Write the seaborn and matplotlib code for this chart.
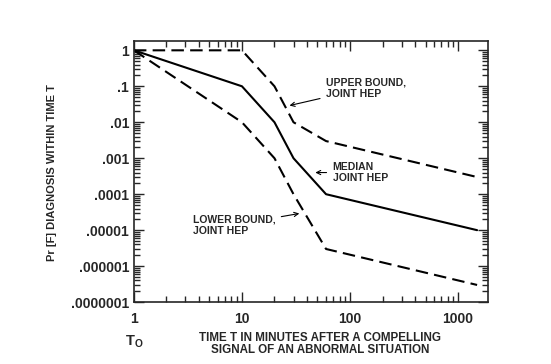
import pandas as pd
import matplotlib
matplotlib.use("Agg")
import matplotlib.pyplot as plt
import matplotlib.transforms as mtransforms
import seaborn as sns

# values (minutes vs probability of failure)
time_min = [1, 10, 20, 30, 60, 1500]
median_hep = [1.0, 0.1, 0.01, 0.001, 0.0001, 0.00001]
upper_hep = [1.0, 1.0, 0.1, 0.01, 0.003, 0.0003]
lower_hep = [1.0, 0.01, 0.001, 0.0001, 0.000003, 0.0000003]

x_ticks = [1, 10, 100, 1000]
x_labels = ["1", "10", "100", "1000"]
y_ticks = [1, 0.1, 0.01, 0.001, 0.0001, 0.00001, 0.000001, 0.0000001]
y_labels = ["1", ".1", ".01", ".001", ".0001", ".00001", ".000001", ".0000001"]

sns.set_style("ticks")
plt.rcParams["font.family"] = ["Liberation Sans", "DejaVu Sans"]
plt.rcParams["font.weight"] = "bold"

df = pd.DataFrame({"T": time_min * 3,
                   "HEP": median_hep + upper_hep + lower_hep,
                   "curve": ["median"] * 6 + ["upper"] * 6 + ["lower"] * 6})

fig = plt.figure(figsize=(5.51, 3.64), dpi=100)
ax = fig.add_axes([0.243, 0.170, 0.643, 0.717])

sns.lineplot(data=df[df.curve == "median"], x="T", y="HEP", color="black",
             lw=1.5, ax=ax)
for name in ["upper", "lower"]:
    sns.lineplot(data=df[df.curve == name], x="T", y="HEP", color="black",
                 lw=1.5, ax=ax, linestyle=(0, (6, 3)))

ax.set_xscale("log")
ax.set_yscale("log")
ax.set_xlim(1, 1900)
ax.set_ylim(1e-7, 1.8)
ax.set_xticks(x_ticks)
ax.set_xticklabels(x_labels)
ax.set_yticks(y_ticks)
ax.set_yticklabels(y_labels)
ax.tick_params(which="both", direction="in", top=True, right=True,
               labelsize=10, width=1)
ax.tick_params(which="major", length=7)
ax.tick_params(which="minor", length=4)
ax.tick_params(axis="x", pad=7)
for s in ax.spines.values():
    s.set_linewidth(1.2)
ax.set_xlabel("")
ax.set_ylabel("")

# T0 under the first tick
trans = mtransforms.blended_transform_factory(ax.transData, ax.transAxes)
ax.text(1, -0.15, r"T$_\mathregular{O}$", transform=trans, ha="center",
        va="center", fontsize=10.5, fontweight="bold")

fig.text(0.581, 0.055, "TIME T IN MINUTES AFTER A COMPELLING\nSIGNAL OF AN ABNORMAL SITUATION",
         ha="center", va="center", fontsize=8.4, fontweight="bold", linespacing=1.1)
fig.text(0.094, 0.527, "Pr [F] DIAGNOSIS WITHIN TIME T", rotation=90,
         ha="center", va="center", fontsize=8, fontweight="bold")

arrow = dict(arrowstyle="->", color="black", lw=0.8)
ax.annotate("UPPER BOUND,\nJOINT HEP", xy=(26, 0.028), xytext=(60, 0.09),
            fontsize=7.5, fontweight="bold", va="center", ha="left",
            arrowprops=arrow)
ax.annotate("MEDIAN\nJOINT HEP", xy=(45, 0.0004), xytext=(69, 0.0004),
            fontsize=7.5, fontweight="bold", va="center", ha="left",
            arrowprops=arrow)
ax.annotate("LOWER BOUND,\nJOINT HEP", xy=(36, 0.00003), xytext=(3.5, 0.000014),
            fontsize=7.5, fontweight="bold", va="center", ha="left",
            arrowprops=arrow)

fig.savefig("out.png", dpi=100)
